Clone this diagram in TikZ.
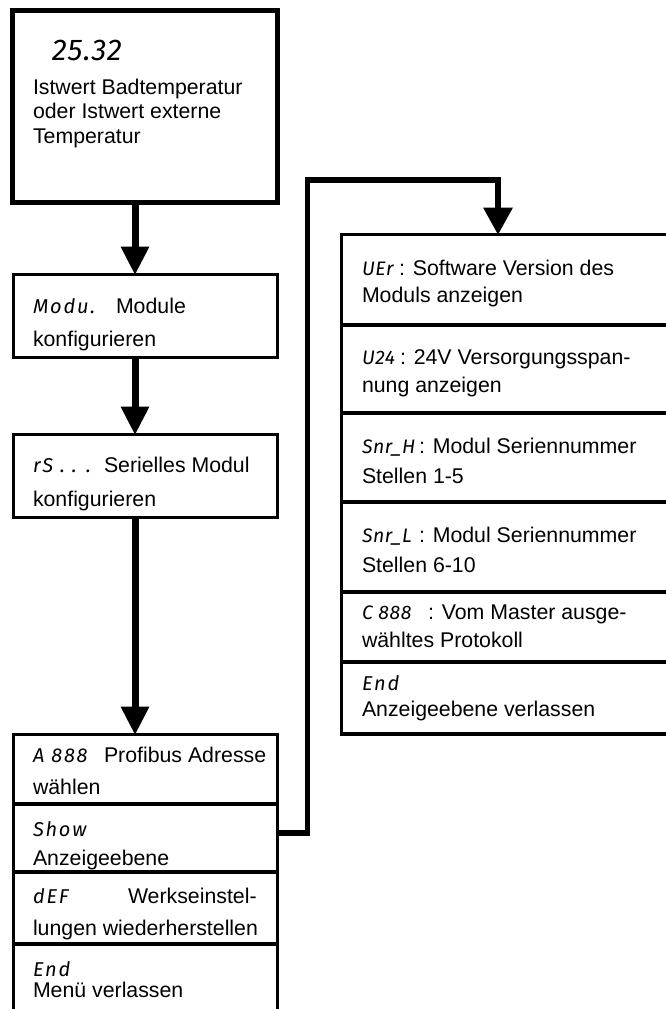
\documentclass[tikz,border=0pt]{standalone}
\usepackage{fontspec}
\setmainfont{Liberation Sans}
\newfontfamily\segfont{Fira Sans}[LetterSpace=3]
\newfontfamily\segwide{Fira Sans}[LetterSpace=9]
\usetikzlibrary{arrows.meta}
\begin{document}
\begin{tikzpicture}[x=1pt,y=-1pt,
  frame/.style={draw,rectangle,line width=3.2pt,inner sep=0pt,outer sep=0pt,anchor=north west},
  txt/.style={anchor=base west,inner sep=0pt,outer sep=0pt,font=\fontsize{21.3}{25}\selectfont},
  seg/.style={anchor=base west,inner sep=0pt,outer sep=0pt,font=\segfont\itshape\fontsize{19.5}{22}\selectfont},
  segw/.style={seg,font=\segwide\itshape\fontsize{20}{24}\selectfont},
  flow/.style={line width=7pt,-{Triangle[length=28pt,width=29pt,line width=0pt]}},
  link/.style={line width=5.5pt,line join=miter,-{Triangle[length=27pt,width=30pt,line width=0pt]}}]
\useasboundingbox (0,0) rectangle (666,1009);
\clip (0,0) rectangle (666,1009);

% left column frames
\node[frame,line width=5pt,minimum width=265pt,minimum height=192pt] (top) at (12.5,10.5) {};
\node[frame,minimum width=264pt,minimum height=83pt] (mod) at (13.5,274.5) {};
\node[frame,minimum width=264pt,minimum height=83pt] (rs) at (13.5,434.5) {};
\node[frame,minimum width=264pt,minimum height=69.5pt] (b1) at (13.5,734.5) {};
\node[frame,minimum width=264pt,minimum height=68pt] (b2) at (13.5,804) {};
\node[frame,minimum width=264pt,minimum height=72pt] (b3) at (13.5,872) {};
\node[frame,minimum width=264pt,minimum height=80pt] (b4) at (13.5,944) {};

% right column frames
\node[frame,minimum width=340pt,minimum height=90.5pt] (v1) at (341.5,234.5) {};
\node[frame,minimum width=340pt,minimum height=88pt] (v2) at (341.5,325) {};
\node[frame,minimum width=340pt,minimum height=89pt] (v3) at (341.5,413) {};
\node[frame,minimum width=340pt,minimum height=90pt] (v4) at (341.5,502) {};
\node[frame,minimum width=340pt,minimum height=70pt] (v5) at (341.5,592) {};
\node[frame,minimum width=340pt,minimum height=72pt] (v6) at (341.5,662) {};

% connectors
\coordinate (ax) at (135,0);
\draw[flow] (top.south -| ax) -- (mod.north -| ax);
\draw[flow] (mod.south -| ax) -- (rs.north -| ax);
\draw[flow] (rs.south -| ax) -- (b1.north -| ax);
\coordinate (bend) at (307.5,180);
\coordinate (rx) at (498,0);
\draw[link] ([yshift=5pt]b2.east) -| (bend) -| (v1.north -| rx);

% texts: top box
\node[seg,font=\segfont\itshape\fontsize{30}{32}\selectfont] (tv) at (52,60) {25.32};
\node[txt] (t1) at (33,94.3) {Istwert Badtemperatur};
\node[txt] (t2) at (33,118.8) {oder Istwert externe};
\node[txt] (t3) at (33,143.3) {Temperatur};

% Modu
\node[segw] (s2) at (33,313.3) {Modu.};
\node[txt] (d2a) at (116,313.3) {Module};
\node[txt] (d2b) at (33,346) {konfigurieren};

% rS
\node[segw] (s3) at (33,472.7) {rS . . .};
\node[txt] (d3a) at (104,472.7) {Serielles Modul};
\node[txt] (d3b) at (33,506) {konfigurieren};

% lower menu
\node[segw] (sb1) at (33,762.7) {A 888};
\node[txt] (db1a) at (104,762.7) {Profibus Adresse};
\node[txt] (db1b) at (33,794.3) {wählen};
\node[segw] (sb2) at (33,836.7) {Show};
\node[txt] (db2) at (33,865) {Anzeigeebene};
\node[segw] (sb3) at (33,903.3) {dEF};
\node[txt] (db3a) at (128,903.3) {Werkseinstel-};
\node[txt] (db3b) at (33,935) {lungen wiederherstellen};
\node[segw] (sb4) at (33,976) {End};
\node[txt] (db4) at (33,997.3) {Menü verlassen};

% right menu
\node[seg] (sv1) at (362,275) {UEr};
\node[txt] (dv1a) at (399,275) {: Software Version des};
\node[txt] (dv1b) at (362,302) {Moduls anzeigen};
\node[seg] (sv2) at (362,364) {U24};
\node[txt] (dv2a) at (400,364) {: 24V Versorgungsspan-};
\node[txt] (dv2b) at (362,392) {nung anzeigen};
\node[seg] (sv3) at (362,453) {Snr\_H};
\node[txt] (dv3a) at (419,453) {: Modul Seriennummer};
\node[txt] (dv3b) at (362,483) {Stellen 1-5};
\node[seg] (sv4) at (362,542) {Snr\_L};
\node[txt] (dv4a) at (419,542) {: Modul Seriennummer};
\node[txt] (dv4b) at (362,572) {Stellen 6-10};
\node[seg] (sv5) at (362,619) {C 888};
\node[txt] (dv5a) at (428,619) {: Vom Master ausge-};
\node[txt] (dv5b) at (362,647) {wähltes Protokoll};
\node[segw] (sv6) at (362,690) {End};
\node[txt] (dv6) at (362,716) {Anzeigeebene verlassen};
\end{tikzpicture}
\end{document}
